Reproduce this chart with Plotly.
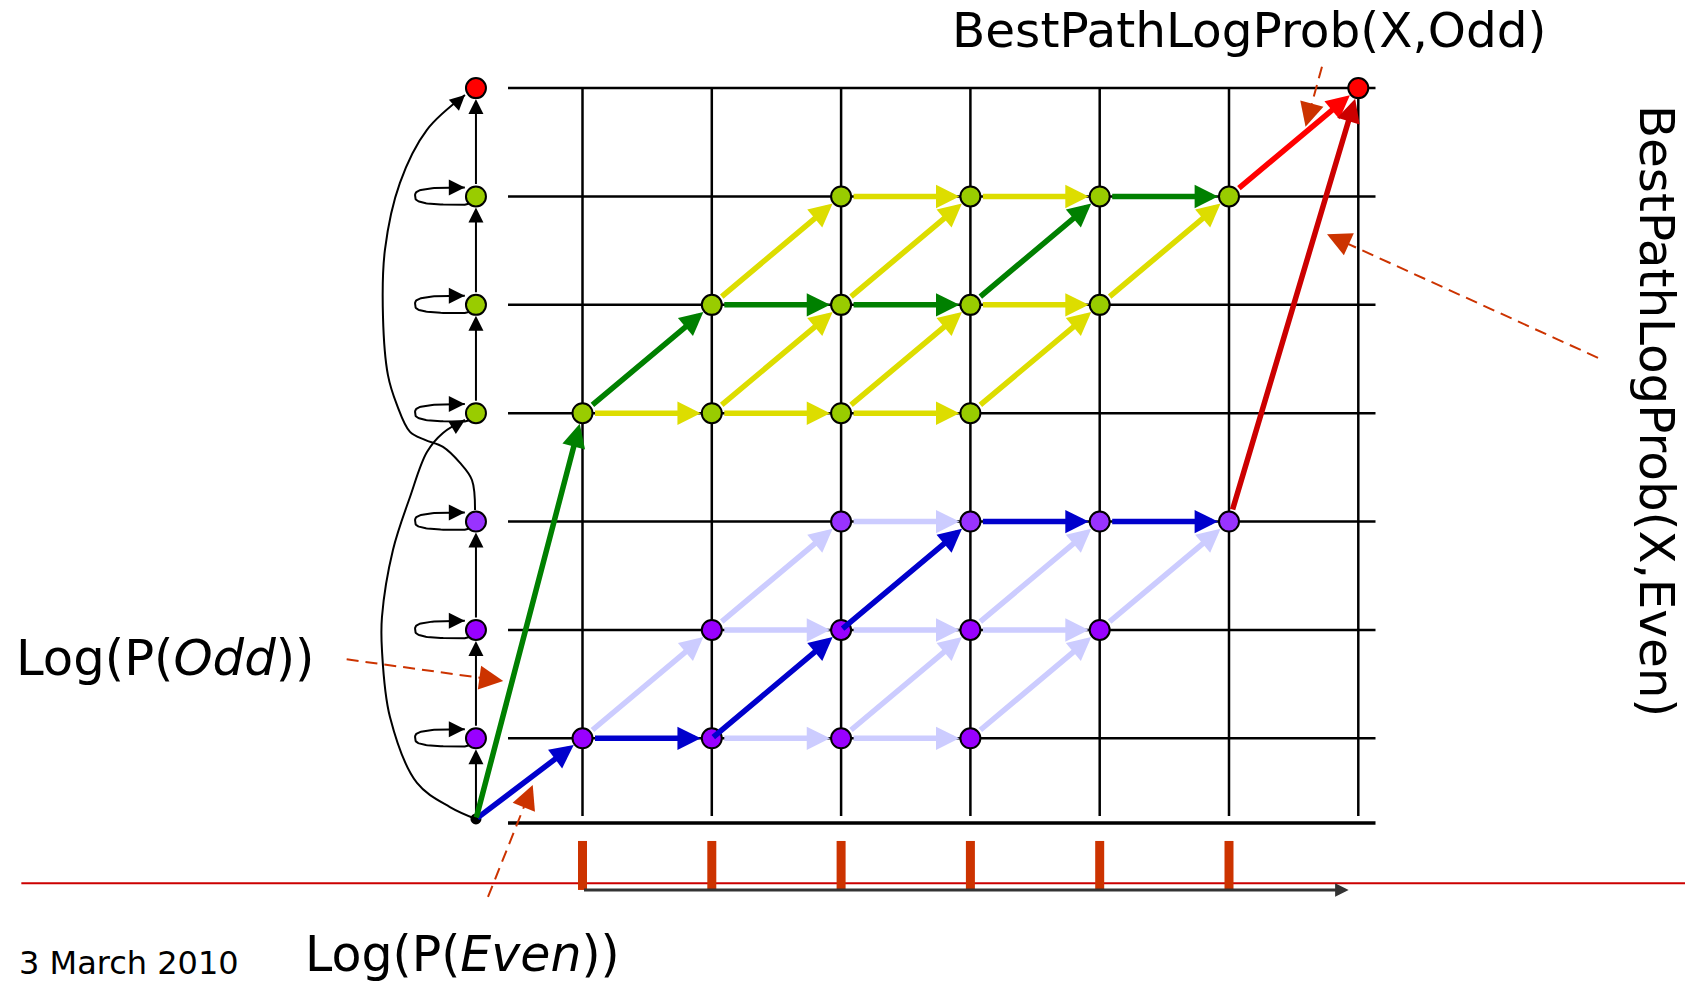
import numpy as np
import plotly.graph_objects as go

# ---------------- data (grid units: x = time column, y = state row) ----------------
STATE_COL_X = 0.176          # column of the HMM state diagram
START = (0.176, 0.256)       # start (non-emitting) node
FINAL = (7, 7)               # final node in trellis
FINAL_STATE = (0.176, 7)

purple_rows = [1, 2, 3]      # Even model states
green_rows = [4, 5, 6]       # Odd model states

purple_nodes = [(1, 1), (2, 1), (3, 1), (4, 1),
                (2, 2), (3, 2), (4, 2), (5, 2),
                (3, 3), (4, 3), (5, 3), (6, 3)]
green_nodes = [(1, 4), (2, 4), (3, 4), (4, 4),
               (2, 5), (3, 5), (4, 5), (5, 5),
               (3, 6), (4, 6), (5, 6), (6, 6)]

yellow_edges = [((1, 4), (2, 4)), ((2, 4), (3, 4)), ((3, 4), (4, 4)),
                ((2, 4), (3, 5)), ((3, 4), (4, 5)), ((4, 4), (5, 5)),
                ((4, 5), (5, 5)), ((2, 5), (3, 6)), ((3, 5), (4, 6)),
                ((3, 6), (4, 6)), ((4, 6), (5, 6)), ((5, 5), (6, 6))]
green_edges = [((1, 4), (2, 5)), ((2, 5), (3, 5)), ((3, 5), (4, 5)),
               ((4, 5), (5, 6)), ((5, 6), (6, 6))]
lav_edges = [((2, 1), (3, 1)), ((3, 1), (4, 1)), ((1, 1), (2, 2)),
             ((2, 2), (3, 2)), ((3, 2), (4, 2)), ((4, 2), (5, 2)),
             ((3, 1), (4, 2)), ((4, 1), (5, 2)), ((2, 2), (3, 3)),
             ((4, 2), (5, 3)), ((5, 2), (6, 3)), ((3, 3), (4, 3))]
blue_edges = [((1, 1), (2, 1)), ((2, 1), (3, 2)), ((3, 2), (4, 3)),
              ((4, 3), (5, 3)), ((5, 3), (6, 3))]

time_cols = [1, 2, 3, 4, 5, 6, 7]
grid_rows = [1, 2, 3, 4, 5, 6, 7]
obs_cols = [1, 2, 3, 4, 5, 6]

# hand-traced curves of the state diagram (grid units)
curve_start_to_odd = [(0.176, 0.256), (-0.025, 0.366), (-0.280, 0.588), (-0.489, 1.197),
                      (-0.551, 1.815), (-0.551, 2.120), (-0.466, 2.738), (-0.334, 3.227),
                      (-0.203, 3.642), (-0.079, 3.818), (0.091, 3.938)]
curve_even_to_end = [(0.169, 3.107), (0.145, 3.384), (0.053, 3.541), (-0.079, 3.689),
                     (-0.218, 3.754), (-0.334, 3.828), (-0.435, 4.077), (-0.505, 4.354),
                     (-0.543, 4.889), (-0.528, 5.507), (-0.412, 6.126), (-0.203, 6.615),
                     (0.091, 6.936)]

# dashed pointer arrows (tail, tip)
pointers = [((-0.824, 1.729), (0.387, 1.530)),
            ((0.269, -0.464), (0.615, 0.570)),
            ((6.719, 7.198), (6.592, 6.643)),
            ((8.854, 4.511), (6.758, 5.651))]

# ---------------- styling ----------------
PX_X = 129.3   # pixels per x unit
PX_Y = 108.37  # pixels per y unit
XR = [-453.2 / PX_X, (1685 - 453.2) / PX_X]
YR = [(846.7 - 985) / PX_Y, 846.7 / PX_Y]

FONT = "DejaVu Sans"
fig = go.Figure()
ann = []


def arrow(p0, p1, color, width, size, standoff=11, startstandoff=11, head=2):
    ann.append(dict(x=p1[0], y=p1[1], ax=p0[0], ay=p0[1], xref="x", yref="y",
                    axref="x", ayref="y", text="", showarrow=True, arrowhead=head,
                    arrowsize=size, arrowwidth=width, arrowcolor=color,
                    standoff=standoff, startstandoff=startstandoff))


def back_point(p_from, p_tip, px):
    """point px pixels back from p_tip along direction p_from -> p_tip"""
    dx, dy = (p_tip[0] - p_from[0]) * PX_X, (p_tip[1] - p_from[1]) * PX_Y
    L = np.hypot(dx, dy)
    return (p_tip[0] - dx / L * px / PX_X, p_tip[1] - dy / L * px / PX_Y)


def seg_trace(segs, color, width, dash=None):
    xs, ys = [], []
    for (a, b) in segs:
        xs += [a[0], b[0], None]
        ys += [a[1], b[1], None]
    fig.add_trace(go.Scatter(x=xs, y=ys, mode="lines", hoverinfo="skip",
                             line=dict(color=color, width=width, dash=dash),
                             showlegend=False))


# red horizontal rule
seg_trace([((XR[0] + 0.165, -0.338), (XR[1] + 1, -0.338))], "#CC0000", 2)

# grid
h_segs = [((0.424, r), (7.133, r)) for r in grid_rows]
v_segs = [((c, 0.283), (c, 7)) for c in time_cols]
seg_trace(h_segs + v_segs, "black", 2.5)
seg_trace([((0.424, 0.219), (7.133, 0.219))], "black", 3.5)

# observation bars
seg_trace([((c, 0.053), (c, -0.399)) for c in obs_cols], "#CC3300", 9)
arrow((1.0, -0.399), (6.925, -0.399), "#333333", 3, 0.9, standoff=0, startstandoff=0)

# curves
for pts in (curve_start_to_odd, curve_even_to_end):
    fig.add_trace(go.Scatter(x=[p[0] for p in pts], y=[p[1] for p in pts], mode="lines",
                             line=dict(color="black", width=2, shape="spline", smoothing=1.0),
                             hoverinfo="skip", showlegend=False))
    arrow(back_point(pts[-2], pts[-1], 14), pts[-1], "black", 2, 1.5,
          standoff=0, startstandoff=0)

# self loops
t = np.linspace(np.pi / 2, 3 * np.pi / 2, 60)
for r in purple_rows + green_rows:
    c = np.cos(t)
    s = np.sin(t)
    lx = 0.09 - 0.385 * np.abs(c) ** (2 / 3.2)
    ly = r + 0.004 + 0.08 * np.sign(s) * np.abs(s) ** (2 / 3.2)
    lx = np.concatenate([lx, [0.14]])
    ly = np.concatenate([ly, [r - 0.06]])
    fig.add_trace(go.Scatter(x=lx, y=ly, mode="lines", line=dict(color="black", width=2),
                             hoverinfo="skip", showlegend=False))
    arrow((-0.02, r + 0.084), (0.09, r + 0.084), "black", 2, 1.6, standoff=0, startstandoff=0)

# vertical state arrows
arrow(START, (STATE_COL_X, 1), "black", 2, 1.5, standoff=11, startstandoff=5)
for a, b in [(1, 2), (2, 3), (4, 5), (5, 6), (6, 7)]:
    arrow((STATE_COL_X, a), (STATE_COL_X, b), "black", 2, 1.5)

# trellis arrows
W, S = 5.5, 0.85
for a, b in lav_edges:
    arrow(a, b, "#CCCCFF", W, S)
for a, b in yellow_edges:
    arrow(a, b, "#DDDD00", W, S)
arrow(START, (1, 1), "#0000CC", W, S, startstandoff=0)
for a, b in blue_edges:
    arrow(a, b, "#0000CC", W, S, startstandoff=0 if a[1] != b[1] else 11)
arrow(START, (1, 4), "#008000", W, S, startstandoff=0)
for a, b in green_edges:
    arrow(a, b, "#008000", W, S)
arrow((6, 6), FINAL, "#FF0000", W, S)
arrow((6, 3), FINAL, "#CC0000", W, S)

# dashed pointers
for tail, tip in pointers:
    mid = back_point(tail, tip, 20)
    seg_trace([(tail, mid)], "#CC3300", 2, dash="12px,7px")
    arrow(mid, tip, "#CC3300", 2, 2.4, standoff=0, startstandoff=0)

# nodes
def nodes(pts, color, size=20):
    fig.add_trace(go.Scatter(x=[p[0] for p in pts], y=[p[1] for p in pts], mode="markers",
                             marker=dict(size=size, color=color, line=dict(color="black", width=2)),
                             hoverinfo="skip", showlegend=False))

nodes([p for p in purple_nodes if p[1] != 3], "#9900FF")
nodes([p for p in purple_nodes if p[1] == 3], "#9933FF")
nodes(green_nodes, "#99CC00")
nodes([FINAL], "#FF0000")
nodes([(STATE_COL_X, r) for r in [1, 2]], "#9900FF")
nodes([(STATE_COL_X, 3)], "#9933FF")
nodes([(STATE_COL_X, r) for r in green_rows], "#99CC00")
nodes([FINAL_STATE], "#FF0000")
nodes([START], "black", size=9)

# texts
texts = [
    dict(text="BestPathLogProb(X,Odd)", x=6.162, y=7.535, xanchor="center", size=48.5, angle=0),
    dict(text="BestPathLogProb(X,Even)", x=9.31, y=4.021, xanchor="center", size=48.3, angle=90),
    dict(text="Log(P(<i>Odd</i>))", x=-3.40, y=1.74, xanchor="left", size=49.7, angle=0),
    dict(text="Log(P(<i>Even</i>))", x=-1.165, y=-0.995, xanchor="left", size=49.0, angle=0),
    dict(text="3 March 2010", x=-3.372, y=-1.075, xanchor="left", size=32, angle=0),
]
for tx in texts:
    ann.append(dict(text=tx["text"], x=tx["x"], y=tx["y"], xref="x", yref="y",
                    xanchor=tx["xanchor"], yanchor="middle", showarrow=False,
                    textangle=tx["angle"], font=dict(family=FONT, size=tx["size"], color="black")))

fig.update_layout(
    width=1685, height=985, margin=dict(l=0, r=0, t=0, b=0),
    paper_bgcolor="white", plot_bgcolor="white",
    xaxis=dict(range=XR, visible=False, fixedrange=True),
    yaxis=dict(range=YR, visible=False, fixedrange=True),
    annotations=ann, showlegend=False,
)
fig.write_html("out.html", config={"displayModeBar": False, "staticPlot": True},
               post_script="document.body.style.margin='0';document.body.style.overflow='hidden';")
